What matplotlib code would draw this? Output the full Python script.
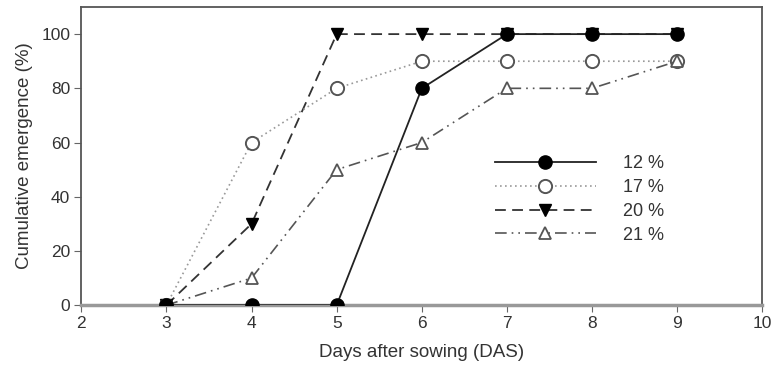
import matplotlib.pyplot as plt

plt.rcParams['font.family'] = ['Liberation Sans', 'DejaVu Sans']

days = [3, 4, 5, 6, 7, 8, 9]
moist_12 = [0, 0, 0, 80, 100, 100, 100]
moist_17 = [0, 60, 80, 90, 90, 90, 90]
moist_20 = [0, 30, 100, 100, 100, 100, 100]
moist_21 = [0, 10, 50, 60, 80, 80, 90]
labels = ['12 %', '17 %', '20 %', '21 %']

fig = plt.figure(figsize=(7.74, 3.69), dpi=100)
ax = fig.add_axes([0.105, 0.173, 0.880, 0.808])

# draw 20 % first so the 12 % circles sit on top at 100
h20, = ax.plot(days, moist_20, color='#333333', lw=1.3, ls=(0, (6, 3.5)),
               marker='v', ms=9, mfc='black', mec='black', zorder=3)
h17, = ax.plot(days, moist_17, color='#999999', lw=1.2, ls=(0, (1, 2)),
               marker='o', ms=9.5, mfc='white', mec='#555555', mew=1.4, zorder=4)
h21, = ax.plot(days, moist_21, color='#555555', lw=1.2,
               ls=(0, (7, 3, 1, 3, 1, 3)),
               marker='^', ms=9, mfc='white', mec='#555555', mew=1.3, zorder=4)
h12, = ax.plot(days, moist_12, color='#222222', lw=1.3, ls='-',
               marker='o', ms=9.5, mfc='black', mec='black', zorder=5)

ax.set_xlim(2, 10)
ax.set_ylim(0, 110)
ax.set_xticks(range(2, 11))
ax.set_yticks(range(0, 101, 20))
ax.tick_params(labelsize=12.5, length=5, color='#666666', labelcolor='#333333', pad=3)
for side in ['left', 'right', 'top']:
    ax.spines[side].set_color('#555555')
    ax.spines[side].set_linewidth(1.3)
ax.spines['bottom'].set_color('#999999')
ax.spines['bottom'].set_linewidth(2.5)
ax.set_xlabel('Days after sowing (DAS)', fontsize=13.5, color='#333333', labelpad=9)
ax.set_ylabel('Cumulative emergence (%)', fontsize=13.5, color='#333333', labelpad=6)

leg = ax.legend([h12, h17, h20, h21], labels, frameon=False, fontsize=13,
                handlelength=5.6, loc='upper left', bbox_to_anchor=(0.607, 0.503),
                borderpad=0, borderaxespad=0,
                labelspacing=0.38, handletextpad=1.5)
for t in leg.get_texts():
    t.set_color('#333333')

fig.savefig('out.png', dpi=100)
